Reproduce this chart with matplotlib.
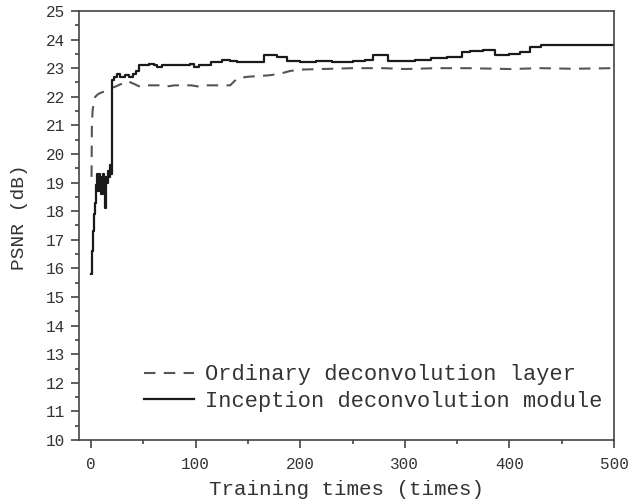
import matplotlib.pyplot as plt
from matplotlib.ticker import MultipleLocator

# Inception deconvolution module (stepped curve)
inc_x = [0, 1, 2, 3, 4, 5, 6, 7, 8, 9, 10, 11, 12, 13, 14, 15, 16, 17, 18, 19,
         20, 22, 25, 28, 32, 36, 40, 43, 46, 50, 55, 60, 63, 68, 80, 95, 98, 103,
         115, 125, 133, 140, 150, 165, 178, 187, 200, 215, 230, 250, 262, 270, 284,
         310, 325, 340, 355, 362, 375, 386, 400, 410, 420, 430, 445, 460, 475, 490, 500]
inc_y = [15.8, 16.6, 17.3, 17.9, 18.3, 18.9, 19.3, 18.7, 19.3, 19.2, 18.6, 19.3, 18.9,
         18.1, 19.2, 19.0, 19.4, 19.2, 19.6, 19.3,
         22.6, 22.7, 22.8, 22.7, 22.75, 22.7, 22.8, 22.9, 23.1, 23.1, 23.15, 23.1, 23.05,
         23.1, 23.1, 23.15, 23.05, 23.1,
         23.2, 23.3, 23.25, 23.2, 23.2, 23.45, 23.4, 23.25, 23.2, 23.25, 23.2, 23.25,
         23.3, 23.45, 23.25,
         23.3, 23.35, 23.4, 23.55, 23.6, 23.65, 23.45, 23.5, 23.55, 23.75, 23.8, 23.82,
         23.8, 23.82, 23.8, 23.8]

# Ordinary deconvolution layer
ord_x = [0.5, 0.8, 1.5, 2.5, 4, 7, 10, 14, 18, 23, 29, 35, 41, 47, 54, 66, 70, 80, 96,
         104, 108, 133, 140, 150, 170, 180, 190, 200, 220, 250, 280, 300, 330, 360,
         400, 430, 460, 500]
ord_y = [19.2, 21.0, 21.5, 21.8, 22.0, 22.1, 22.15, 22.2, 22.3, 22.35, 22.45, 22.55,
         22.45, 22.35, 22.4, 22.4, 22.35, 22.4, 22.4, 22.35, 22.4, 22.4, 22.65, 22.7,
         22.75, 22.8, 22.9, 22.95, 22.97, 23.0, 23.0, 22.97, 23.0, 23.0, 22.97, 23.0,
         22.98, 23.0]

plt.rcParams['font.family'] = ['Liberation Mono', 'DejaVu Sans Mono']

fig = plt.figure(figsize=(6.28, 5.03), dpi=100)
ax = fig.add_axes([0.1258, 0.1252, 0.852, 0.853])

ax.plot(ord_x, ord_y, color='#555555', lw=1.5, dashes=(5.5, 4),
        label='Ordinary deconvolution layer')
ax.plot(inc_x, inc_y, color='#1a1a1a', lw=1.6, drawstyle='steps-post',
        label='Inception deconvolution module')

ax.set_xlim(-11.5, 500)
ax.set_ylim(10, 25)
ax.xaxis.set_major_locator(MultipleLocator(100))
ax.xaxis.set_minor_locator(MultipleLocator(50))
ax.yaxis.set_major_locator(MultipleLocator(1))
ax.yaxis.set_minor_locator(MultipleLocator(0.5))
ax.tick_params(which='major', length=6, width=1.1, color='#333333',
               labelsize=11.5, labelcolor='#333333', pad=4)
ax.tick_params(axis='x', which='major', pad=6)
ax.tick_params(which='minor', length=3, width=1.1, color='#333333')
for s in ax.spines.values():
    s.set_color('#444444')
    s.set_linewidth(1.2)

ax.set_xlabel('Training times (times)', fontsize=15, color='#333333', labelpad=6)
ax.set_ylabel('PSNR (dB)', fontsize=14, color='#333333')
ax.yaxis.set_label_coords(-0.095, 0.52)

ax.legend(loc='lower left', bbox_to_anchor=(0.084, 0.02), frameon=False,
          fontsize=15.8, handlelength=2.3, handletextpad=0.5, labelspacing=0.25,
          labelcolor='#333333')

fig.savefig('out.png', dpi=100)
